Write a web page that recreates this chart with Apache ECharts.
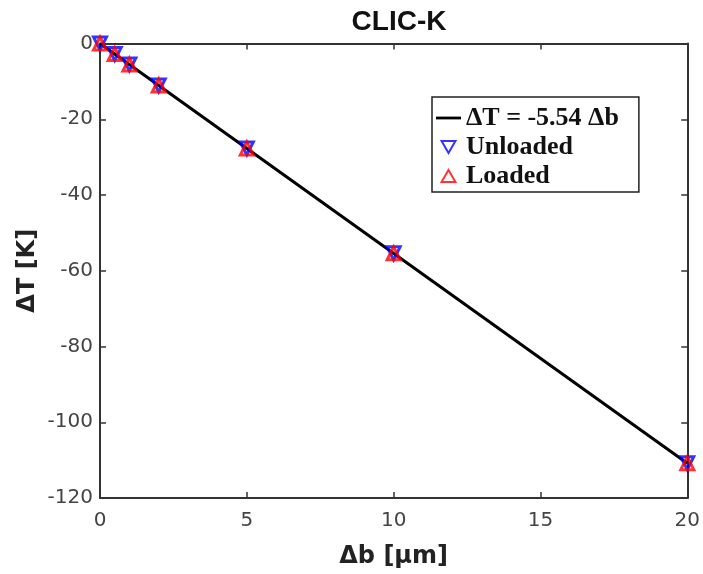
<!DOCTYPE html>
<html>
<head>
<meta charset="utf-8">
<script src="https://cdn.jsdelivr.net/npm/echarts@6/dist/echarts.min.js"></script>
<style>html,body{margin:0;padding:0;background:#fff}#c{width:703px;height:574px}</style>
</head>
<body>
<div id="c"></div>
<script>
var deltaB = [0, 0.5, 1, 2, 5, 10, 20];
var unloadedT = [0, -2.77, -5.54, -11.08, -27.7, -55.4, -110.8];
var loadedT = [0, -2.77, -5.54, -11.08, -27.7, -55.4, -110.8];
var fitB = [0, 20];
var fitT = [0, -110.8];
var xTicks = [0, 5, 10, 15, 20];
var yTicks = [-120, -100, -80, -60, -40, -20, 0];

function pairs(xs, ys) { return xs.map(function (x, i) { return [x, ys[i]]; }); }

var downTri = 'path://M0,0 L20,0 L10,17.3 Z';
var upTri = 'path://M10,0 L20,17.3 L0,17.3 Z';
var lineIcon = 'path://M0,0 L25,0 L25,2.8 L0,2.8 Z';
var axisColor = '#333';
var chart = echarts.init(document.getElementById('c'));
var tickFont = { fontFamily: 'DejaVu Sans', fontSize: 20, color: '#444' };
chart.setOption({
  animation: false,
  title: {
    text: 'CLIC-K', left: 394, top: 3, textAlign: 'center',
    textStyle: { fontFamily: 'Liberation Sans', fontWeight: 'bold', fontSize: 28, color: '#111' }
  },
  grid: { left: 100, right: 15, top: 43.5, bottom: 76 },
  legend: {
    orient: 'vertical', left: 432, top: 97,
    padding: [8, 20, 3, 4], itemGap: 3, itemWidth: 25, itemHeight: 12,
    borderColor: '#222', borderWidth: 1.5, backgroundColor: '#fff',
    textStyle: { fontFamily: 'Liberation Serif', fontWeight: 'bold', fontSize: 26, color: '#111', lineHeight: 26 },
    data: [
      { name: 'ΔT = -5.54 Δb', icon: lineIcon },
      { name: 'Unloaded', icon: downTri },
      { name: 'Loaded', icon: upTri }
    ]
  },
  xAxis: [{
    type: 'value', min: 0, max: 20, interval: 5, position: 'bottom',
    name: 'Δb [μm]', nameLocation: 'middle', nameGap: 47, nameMoveOverlap: false,
    nameTextStyle: { fontFamily: 'DejaVu Sans', fontWeight: 'bold', fontSize: 24, color: '#222' },
    axisLine: { show: true, onZero: false, lineStyle: { color: axisColor, width: 2 } },
    axisTick: { show: true, inside: true, length: 6, lineStyle: { color: axisColor, width: 1.5 } },
    axisLabel: Object.assign({ margin: 13 }, tickFont),
    splitLine: { show: false }
  }, {
    type: 'value', min: 0, max: 20, interval: 5, position: 'top',
    axisLine: { show: true, onZero: false, lineStyle: { color: axisColor, width: 2 } },
    axisTick: { show: true, inside: true, length: 6, lineStyle: { color: axisColor, width: 1.5 } },
    axisLabel: { show: false }, splitLine: { show: false }
  }],
  yAxis: [{
    type: 'value', min: -120, max: 0, interval: 20, position: 'left',
    name: 'ΔT [K]', nameLocation: 'middle', nameGap: 60, nameMoveOverlap: false,
    nameTextStyle: { fontFamily: 'DejaVu Sans', fontWeight: 'bold', fontSize: 24, color: '#222' },
    axisLine: { show: true, onZero: false, lineStyle: { color: axisColor, width: 2 } },
    axisTick: { show: true, inside: true, length: 6, lineStyle: { color: axisColor, width: 1.5 } },
    axisLabel: Object.assign({ margin: 7 }, tickFont),
    splitLine: { show: false }
  }, {
    type: 'value', min: -120, max: 0, interval: 20, position: 'right',
    axisLine: { show: true, onZero: false, lineStyle: { color: axisColor, width: 2 } },
    axisTick: { show: true, inside: true, length: 6, lineStyle: { color: axisColor, width: 1.5 } },
    axisLabel: { show: false }, splitLine: { show: false }
  }],
  series: [{
    name: 'ΔT = -5.54 Δb', type: 'line', data: pairs(fitB, fitT),
    symbol: 'none', lineStyle: { color: '#000', width: 3 }, itemStyle: { color: '#000' }, z: 2
  }, {
    name: 'Unloaded', type: 'scatter', data: pairs(deltaB, unloadedT), clip: false,
    symbol: downTri, symbolSize: 13,
    itemStyle: { color: 'rgba(255,255,255,0)', borderColor: '#0000ff', borderWidth: 3 }, z: 3
  }, {
    name: 'Loaded', type: 'scatter', data: pairs(deltaB, loadedT), clip: false,
    symbol: upTri, symbolSize: 13,
    itemStyle: { color: 'rgba(255,255,255,0)', borderColor: '#ff0000', borderWidth: 3 }, z: 4
  }]
});
</script>
</body>
</html>
